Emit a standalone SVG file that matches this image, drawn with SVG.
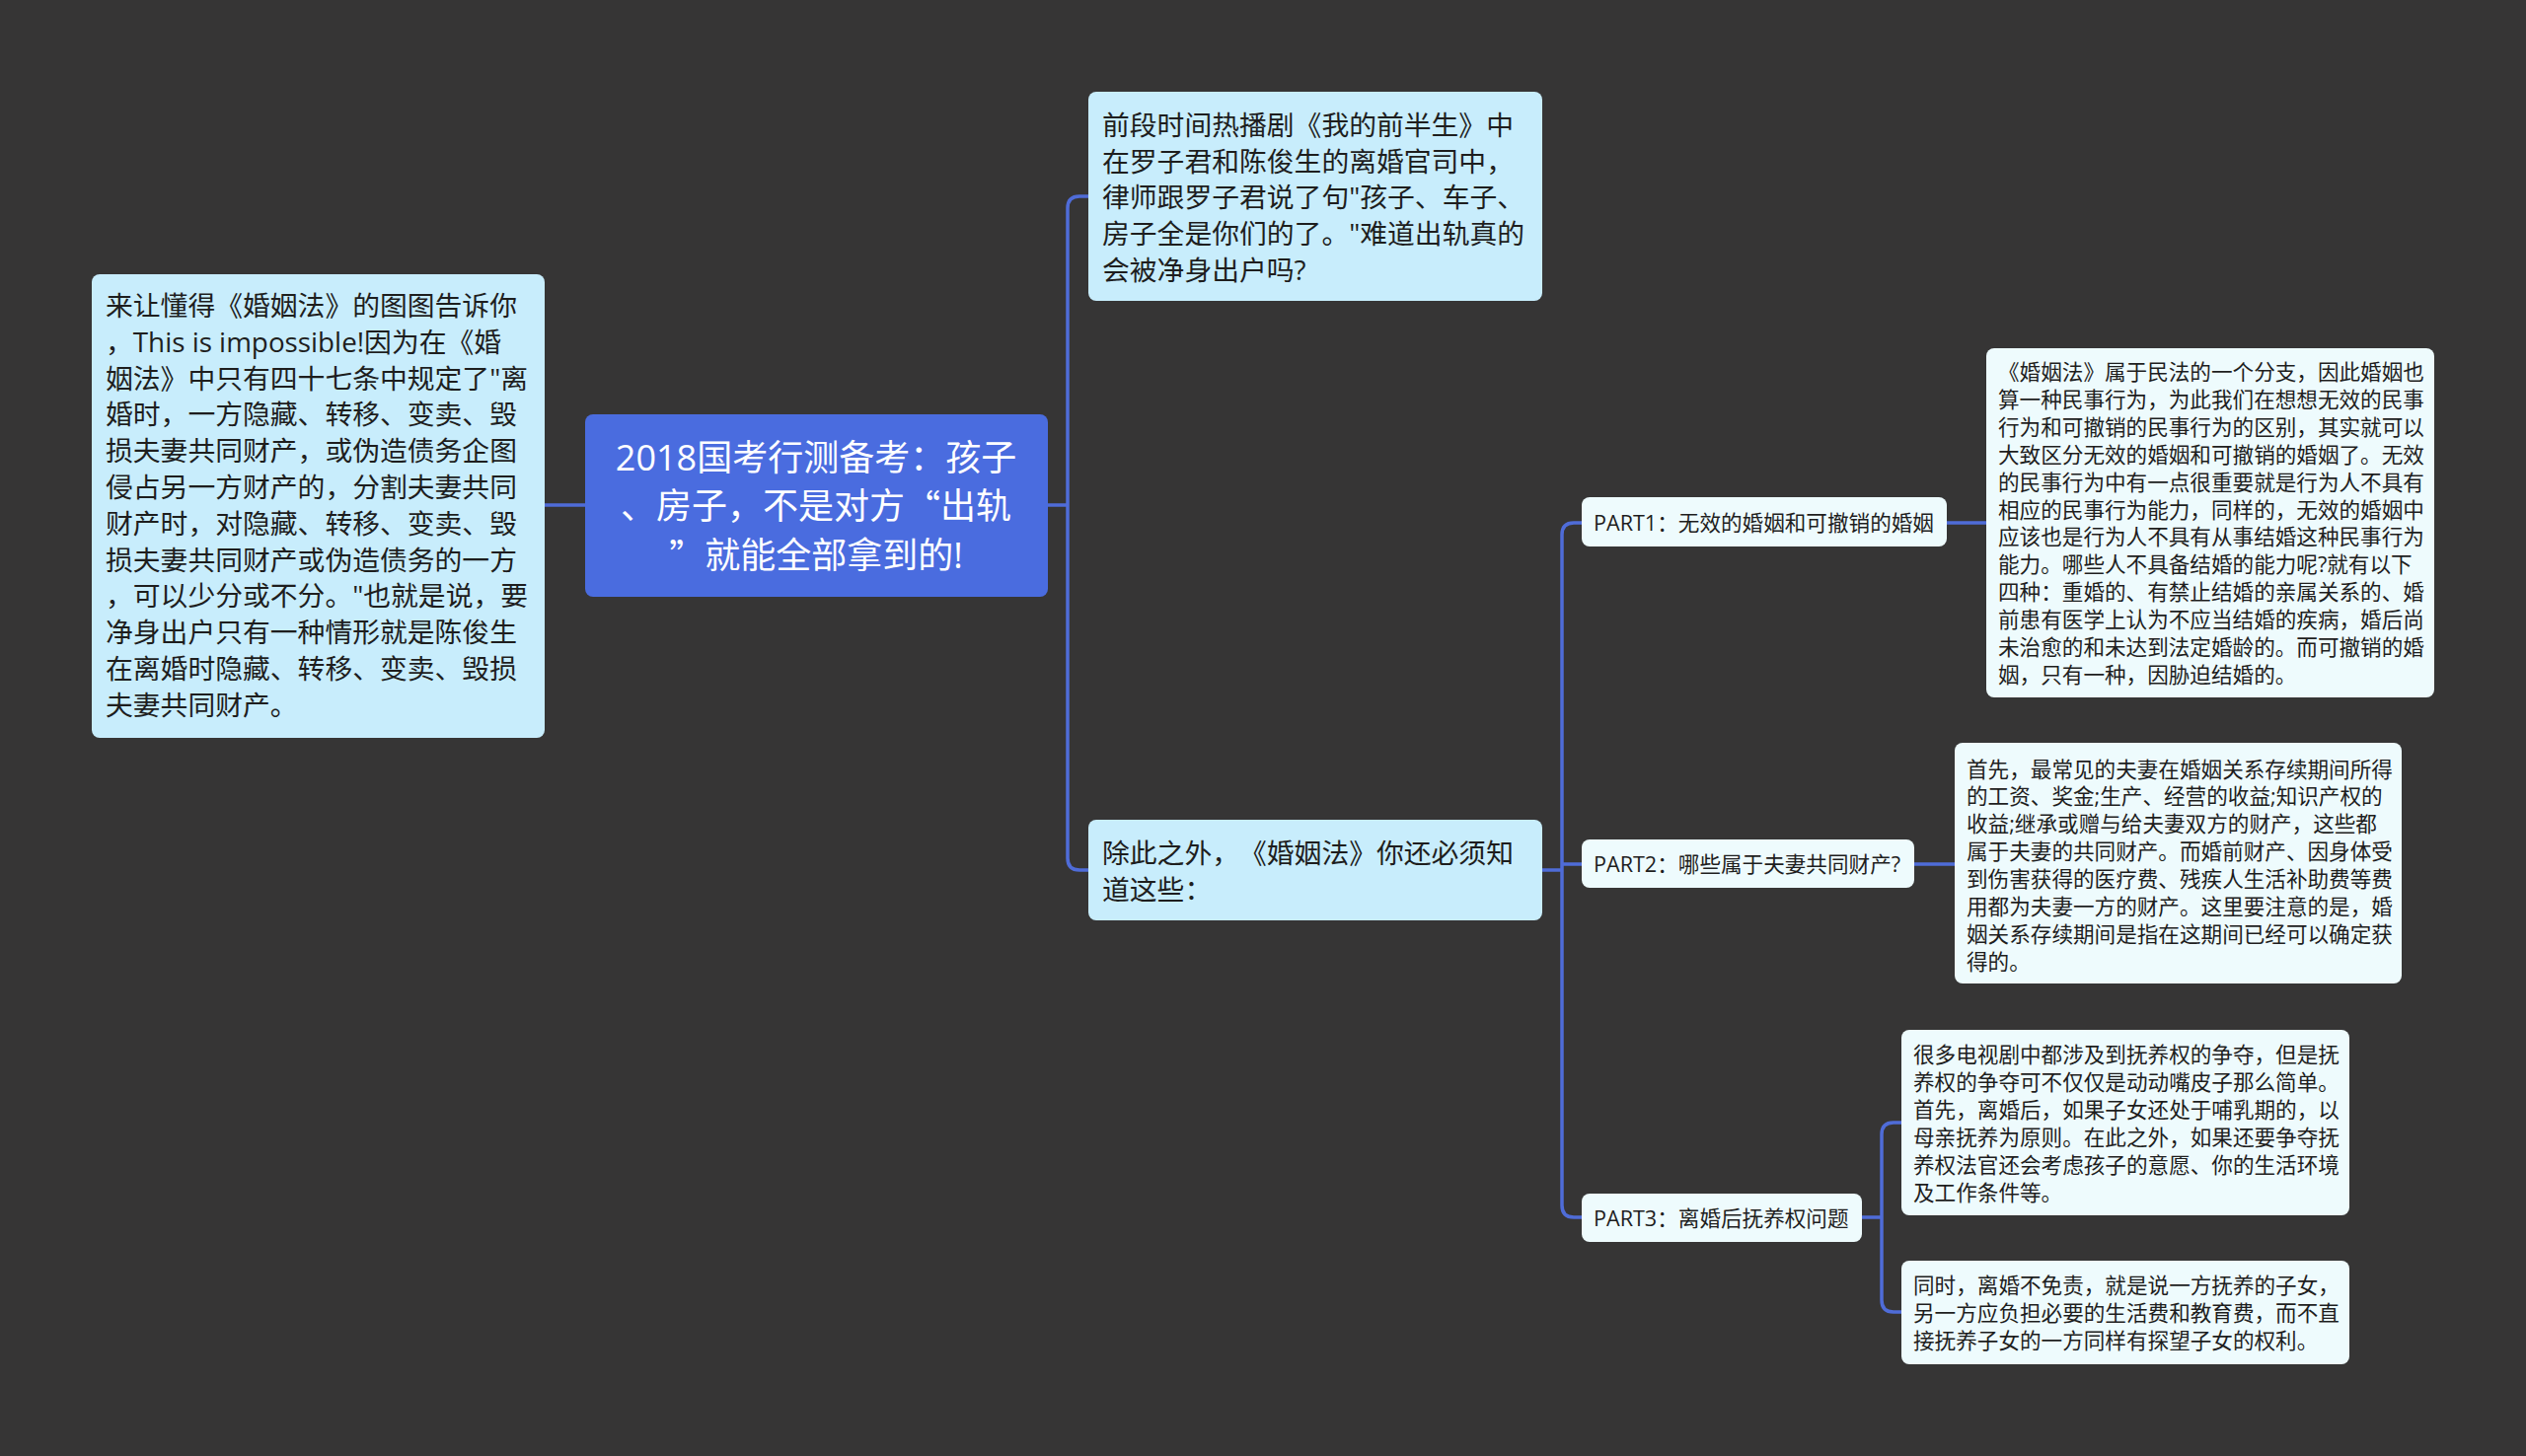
<svg xmlns="http://www.w3.org/2000/svg" width="2560" height="1476" viewBox="0 0 2560 1476" xml:lang="zh-CN" lang="zh-CN">
<style>
.bg{fill:#363535}
.edge{fill:none;stroke:#4f6cd8;stroke-width:3.5;stroke-linecap:round}
.root{fill:#4a6cdf}
.l1{fill:#c8edfc}
.l2{fill:#eefbfd}
text{font-family:"Open Sans","Noto Sans CJK SC",sans-serif;dominant-baseline:central;fill:#1e1e1e;text-spacing-trim:space-all}
.q{font-family:"Noto Sans CJK SC",sans-serif;font-feature-settings:"fwid" 1}
.rt{font-size:36px;fill:#ffffff;text-anchor:middle}
.t1{font-size:27.8px}
.t2{font-size:21.6px}
</style>
<rect class="bg" x="0" y="0" width="2560" height="1476"/>
<g id="connectors">
<path class="edge" d="M593,512 H552"/>
<path class="edge" d="M1062,512 H1082 M1082,512 V211 Q1082,199 1094,199 H1103 M1082,512 V870 Q1082,882 1094,882 H1103"/>
<path class="edge" d="M1563,882 H1583 M1583,882 V542 Q1583,530 1595,530 H1603 M1583,876 H1603 M1583,882 V1222 Q1583,1234 1595,1234 H1603"/>
<path class="edge" d="M1973,530 H2013"/>
<path class="edge" d="M1940,876 H1981"/>
<path class="edge" d="M1887,1234 H1907 M1907,1234 V1150 Q1907,1138 1919,1138 H1927 M1907,1234 V1318 Q1907,1330 1919,1330 H1927"/>
</g>
<g id="root">
<rect class="root" x="593" y="420" width="469" height="185" rx="8"/>
<text class="rt" x="827" y="463">2018国考行测备考：孩子</text>
<text class="rt" x="827" y="512">、房子，不是对方<tspan class="q">“</tspan>出轨</text>
<text class="rt" x="827" y="562"><tspan class="q">”</tspan>就能全部拿到的!</text>
</g>
<g id="left-node">
<rect class="l1" x="93" y="278" width="459" height="470" rx="8"/>
<text class="t1" x="107" y="309">来让懂得《婚姻法》的图图告诉你</text>
<text class="t1" x="107" y="345.8">，This is impossible!因为在《婚</text>
<text class="t1" x="107" y="382.6">姻法》中只有四十七条中规定了"离</text>
<text class="t1" x="107" y="419.4">婚时，一方隐藏、转移、变卖、毁</text>
<text class="t1" x="107" y="456.2">损夫妻共同财产，或伪造债务企图</text>
<text class="t1" x="107" y="493">侵占另一方财产的，分割夫妻共同</text>
<text class="t1" x="107" y="529.8">财产时，对隐藏、转移、变卖、毁</text>
<text class="t1" x="107" y="566.6">损夫妻共同财产或伪造债务的一方</text>
<text class="t1" x="107" y="603.4">，可以少分或不分。"也就是说，要</text>
<text class="t1" x="107" y="640.2">净身出户只有一种情形就是陈俊生</text>
<text class="t1" x="107" y="677">在离婚时隐藏、转移、变卖、毁损</text>
<text class="t1" x="107" y="713.8">夫妻共同财产。</text>
</g>
<g id="node-intro">
<rect class="l1" x="1103" y="93" width="460" height="212" rx="8"/>
<text class="t1" x="1117" y="126">前段时间热播剧《我的前半生》中</text>
<text class="t1" x="1117" y="162.7">在罗子君和陈俊生的离婚官司中，</text>
<text class="t1" x="1117" y="199.4">律师跟罗子君说了句"孩子、车子、</text>
<text class="t1" x="1117" y="236.1">房子全是你们的了。"难道出轨真的</text>
<text class="t1" x="1117" y="272.8">会被净身出户吗?</text>
</g>
<g id="node-besides">
<rect class="l1" x="1103" y="831" width="460" height="102" rx="8"/>
<text class="t1" x="1117" y="864">除此之外，《婚姻法》你还必须知</text>
<text class="t1" x="1117" y="901">道这些：</text>
</g>
<g id="part1">
<rect class="l2" x="1603" y="504" width="370" height="50" rx="8"/>
<text class="t2" x="1615" y="529.5">PART1：无效的婚姻和可撤销的婚姻</text>
</g>
<g id="part1-detail">
<rect class="l2" x="2013" y="353" width="454" height="354" rx="8"/>
<text class="t2" x="2025" y="376.5">《婚姻法》属于民法的一个分支，因此婚姻也</text>
<text class="t2" x="2025" y="404.4">算一种民事行为，为此我们在想想无效的民事</text>
<text class="t2" x="2025" y="432.3">行为和可撤销的民事行为的区别，其实就可以</text>
<text class="t2" x="2025" y="460.2">大致区分无效的婚姻和可撤销的婚姻了。无效</text>
<text class="t2" x="2025" y="488.1">的民事行为中有一点很重要就是行为人不具有</text>
<text class="t2" x="2025" y="516">相应的民事行为能力，同样的，无效的婚姻中</text>
<text class="t2" x="2025" y="543.9">应该也是行为人不具有从事结婚这种民事行为</text>
<text class="t2" x="2025" y="571.8">能力。哪些人不具备结婚的能力呢?就有以下</text>
<text class="t2" x="2025" y="599.7">四种：重婚的、有禁止结婚的亲属关系的、婚</text>
<text class="t2" x="2025" y="627.6">前患有医学上认为不应当结婚的疾病，婚后尚</text>
<text class="t2" x="2025" y="655.5">未治愈的和未达到法定婚龄的。而可撤销的婚</text>
<text class="t2" x="2025" y="683.4">姻，只有一种，因胁迫结婚的。</text>
</g>
<g id="part2">
<rect class="l2" x="1603" y="851" width="337" height="49" rx="8"/>
<text class="t2" x="1615" y="875.5">PART2：哪些属于夫妻共同财产?</text>
</g>
<g id="part2-detail">
<rect class="l2" x="1981" y="753" width="453" height="244" rx="8"/>
<text class="t2" x="1993" y="779">首先，最常见的夫妻在婚姻关系存续期间所得</text>
<text class="t2" x="1993" y="806.9">的工资、奖金;生产、经营的收益;知识产权的</text>
<text class="t2" x="1993" y="834.8">收益;继承或赠与给夫妻双方的财产，这些都</text>
<text class="t2" x="1993" y="862.7">属于夫妻的共同财产。而婚前财产、因身体受</text>
<text class="t2" x="1993" y="890.6">到伤害获得的医疗费、残疾人生活补助费等费</text>
<text class="t2" x="1993" y="918.5">用都为夫妻一方的财产。这里要注意的是，婚</text>
<text class="t2" x="1993" y="946.4">姻关系存续期间是指在这期间已经可以确定获</text>
<text class="t2" x="1993" y="974.3">得的。</text>
</g>
<g id="part3">
<rect class="l2" x="1603" y="1210" width="284" height="49" rx="8"/>
<text class="t2" x="1615" y="1234.5">PART3：离婚后抚养权问题</text>
</g>
<g id="part3-detail-1">
<rect class="l2" x="1927" y="1044" width="454" height="188" rx="8"/>
<text class="t2" x="1939" y="1068.5">很多电视剧中都涉及到抚养权的争夺，但是抚</text>
<text class="t2" x="1939" y="1096.4">养权的争夺可不仅仅是动动嘴皮子那么简单。</text>
<text class="t2" x="1939" y="1124.3">首先，离婚后，如果子女还处于哺乳期的，以</text>
<text class="t2" x="1939" y="1152.2">母亲抚养为原则。在此之外，如果还要争夺抚</text>
<text class="t2" x="1939" y="1180.1">养权法官还会考虑孩子的意愿、你的生活环境</text>
<text class="t2" x="1939" y="1208">及工作条件等。</text>
</g>
<g id="part3-detail-2">
<rect class="l2" x="1927" y="1278" width="454" height="105" rx="8"/>
<text class="t2" x="1939" y="1302.6">同时，离婚不免责，就是说一方抚养的子女，</text>
<text class="t2" x="1939" y="1330.5">另一方应负担必要的生活费和教育费，而不直</text>
<text class="t2" x="1939" y="1358.4">接抚养子女的一方同样有探望子女的权利。</text>
</g>
</svg>
